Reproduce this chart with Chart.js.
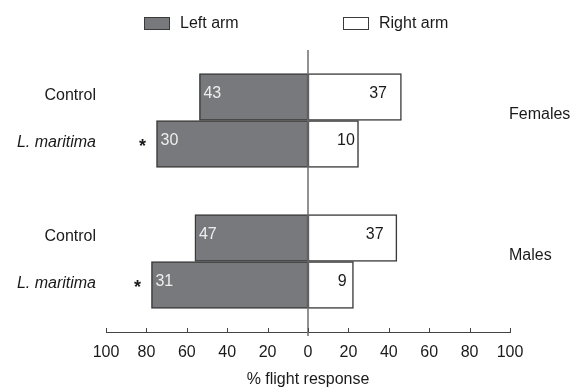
<!DOCTYPE html>
<html>
<head>
<meta charset="utf-8">
<script src="https://cdn.jsdelivr.net/npm/chart.js@4"></script>
<style>
  html, body { margin: 0; padding: 0; background: #fff; }
  #wrap { width: 574px; height: 389px; }
</style>
</head>
<body>
<div id="wrap"><canvas id="barChart" width="574" height="389"></canvas></div>
<script>
// Data
const groups = ['Females', 'Males'];
const treatments = ['Control', 'L. maritima'];
const leftCounts = [43, 30, 47, 31];
const rightCounts = [37, 10, 37, 9];
const leftPct = [53.75, 75, 56, 77.5];
const rightPct = [46.25, 25, 44, 22.5];
const significant = [false, true, false, true];
const xTicks = [-100, -80, -60, -40, -20, 0, 20, 40, 60, 80, 100];

const FONT = "'Liberation Sans', Arial, Helvetica, sans-serif";
const GRAY = '#78797d';
const EDGE = '#3a3a3a';
const TEXT = '#1a1a1a';

// rows: blank spacer, then the two treatments of each group
const rows = [''];
const rowIdx = [];
const leftData = [null];
const rightData = [null];
groups.forEach((g, gi) => {
    treatments.forEach((t, ti) => {
        const k = gi * treatments.length + ti;
        rowIdx.push(rows.length);
        rows.push(t);
        leftData.push(-leftPct[k]);
        rightData.push(rightPct[k]);
    });
    if (gi < groups.length - 1) {
        rows.push('');
        leftData.push(null);
        rightData.push(null);
    }
});
rows.push('');
leftData.push(null);
rightData.push(null);

const decor = {
    id: 'decor',
    afterDatasetsDraw(chart) {
        const ctx = chart.ctx;
        const x = chart.scales.x;
        const area = chart.chartArea;
        ctx.save();

        // zero line
        ctx.strokeStyle = '#6e6e6e';
        ctx.lineWidth = 1.5;
        ctx.beginPath();
        ctx.moveTo(x.getPixelForValue(0), area.top);
        ctx.lineTo(x.getPixelForValue(0), area.bottom + 4);
        ctx.stroke();

        // axis ticks pointing up
        ctx.strokeStyle = '#444';
        ctx.lineWidth = 1;
        xTicks.forEach(v => {
            const px = Math.round(x.getPixelForValue(v)) + 0.5;
            ctx.beginPath();
            ctx.moveTo(px, area.bottom);
            ctx.lineTo(px, area.bottom - 4);
            ctx.stroke();
        });

        const leftMeta = chart.getDatasetMeta(0);
        const rightMeta = chart.getDatasetMeta(1);
        ctx.textBaseline = 'middle';
        rowIdx.forEach((r, k) => {
            const lb = leftMeta.data[r];
            const rb = rightMeta.data[r];
            const cy = lb.y;

            // bar value labels
            ctx.font = '16px ' + FONT;
            ctx.fillStyle = '#eeeeee';
            ctx.textAlign = 'left';
            ctx.fillText(String(leftCounts[k]), Math.min(lb.x, lb.base) + 4, cy - 3);
            ctx.fillStyle = TEXT;
            ctx.textAlign = 'center';
            ctx.fillText(String(rightCounts[k]), rb.base + 0.75 * (rb.x - rb.base), cy - 3);

            // row labels
            const t = treatments[k % treatments.length];
            ctx.fillStyle = TEXT;
            ctx.textAlign = 'right';
            ctx.font = (t === 'Control' ? '' : 'italic ') + '16px ' + FONT;
            ctx.fillText(t, 96, cy - 1);

            if (significant[k]) {
                ctx.font = 'bold 18px ' + FONT;
                ctx.textAlign = 'center';
                ctx.fillText('*', Math.min(lb.x, lb.base) - 14, cy + 3);
            }
        });

        // group labels
        ctx.font = '16px ' + FONT;
        ctx.textAlign = 'left';
        ctx.fillStyle = TEXT;
        groups.forEach((g, gi) => {
            const a = leftMeta.data[rowIdx[gi * 2]].y;
            const b = leftMeta.data[rowIdx[gi * 2 + 1]].y;
            ctx.fillText(g, 509, (a + b) / 2 - 6);
        });

        // legend
        const items = [
            { label: chart.data.datasets[0].label, fill: GRAY, x: 144 },
            { label: chart.data.datasets[1].label, fill: '#ffffff', x: 343 }
        ];
        items.forEach(it => {
            ctx.fillStyle = it.fill;
            ctx.strokeStyle = EDGE;
            ctx.lineWidth = 1;
            ctx.fillRect(it.x + 0.5, 17.5, 25, 12);
            ctx.strokeRect(it.x + 0.5, 17.5, 25, 12);
            ctx.fillStyle = TEXT;
            ctx.font = '16px ' + FONT;
            ctx.textAlign = 'left';
            ctx.fillText(it.label, it.x + 36, 23.5);
        });
        ctx.restore();
    }
};

const ctx = document.getElementById('barChart').getContext('2d');
new Chart(ctx, {
    type: 'bar',
    data: {
        labels: rows,
        datasets: [{
            label: 'Left arm',
            data: leftData,
            backgroundColor: GRAY,
            borderColor: EDGE,
            borderWidth: 1.5,
            borderSkipped: false,
        }, {
            label: 'Right arm',
            data: rightData,
            backgroundColor: '#ffffff',
            borderColor: EDGE,
            borderWidth: 1.5,
            borderSkipped: false,
        }],
    },
    options: {
        indexAxis: 'y',
        responsive: false,
        animation: false,
        barPercentage: 1,
        categoryPercentage: 1,
        layout: { padding: { top: 50, left: 106, right: 64, bottom: 0 } },
        plugins: {
            legend: { display: false },
            tooltip: { enabled: false },
        },
        scales: {
            x: {
                stacked: true,
                min: -100,
                max: 100,
                afterFit: scale => { scale.height = 57; },
                grid: { display: false, drawTicks: false },
                border: { display: true, color: '#444', width: 1 },
                ticks: {
                    stepSize: 20,
                    padding: 11,
                    color: TEXT,
                    font: { family: FONT, size: 16 },
                    callback: v => Math.abs(v),
                },
                title: {
                    display: true,
                    text: '% flight response',
                    color: TEXT,
                    font: { family: FONT, size: 16 },
                    padding: { top: 4, bottom: 0 },
                },
            },
            y: {
                stacked: true,
                offset: false,
                display: false,
            },
        },
    },
    plugins: [decor],
});
</script>
</body>
</html>
